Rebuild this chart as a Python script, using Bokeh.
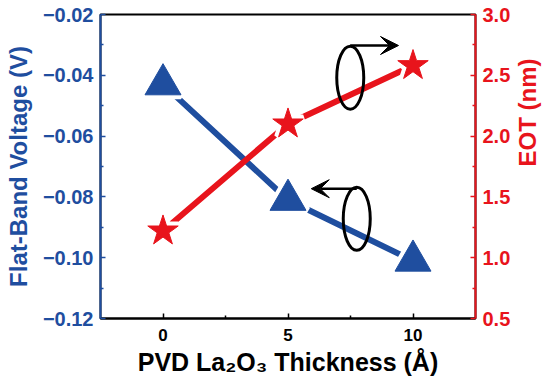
import math
from bokeh.plotting import figure
from bokeh.models import (Range1d, LinearAxis, FixedTicker, Arrow, VeeHead,
                          CustomJSTickFormatter, ColumnDataSource)
from bokeh.embed import file_html
from bokeh.resources import INLINE

# ---- data ----
thickness = [0, 5, 10]
vfb = [-0.043, -0.081, -0.101]
eot = [1.22, 2.10, 2.58]

x_ticks = [0, 5, 10]
vfb_ticks = [-0.12, -0.10, -0.08, -0.06, -0.04, -0.02]
eot_ticks = [0.5, 1.0, 1.5, 2.0, 2.5, 3.0]

# annotation (ellipse + arrow) positions
eot_ring_x, eot_ring_y, eot_arrow_y, eot_arrow_x_end = 7.49, 2.48, 2.745, 9.42
vfb_ring_x, vfb_ring_y, vfb_arrow_y, vfb_arrow_x_end = 7.75, -0.0872, -0.0773, 5.93

BLUE = "#1f4e9f"
RED = "#e8141c"
FONT = "Liberation Sans"

def mids(t):
    return [(a + b) / 2 for a, b in zip(t[:-1], t[1:])]

p = figure(frame_width=375, frame_height=304,
           x_range=Range1d(-2.5, 12.5), y_range=Range1d(-0.12, -0.02),
           output_backend="svg", toolbar_location=None,
           min_border_left=100, min_border_right=69,
           min_border_top=14, min_border_bottom=60)
p.extra_y_ranges = {"eot": Range1d(0.5, 3.0)}
p.xgrid.visible = False
p.ygrid.visible = False
p.outline_line_color = "black"
p.outline_line_width = 2
p.background_fill_color = "white"
p.border_fill_color = "white"

# x axis
xa = p.xaxis[0]
xa.ticker = FixedTicker(ticks=x_ticks, minor_ticks=mids(x_ticks))
xa.axis_label = "PVD La\u2082O\u2083 Thickness (\u00c5)"
xa.axis_line_color = "black"
xa.axis_line_width = 2
xa.major_tick_line_color = "black"
xa.minor_tick_line_color = "black"
xa.major_tick_line_width = 1.5
xa.minor_tick_line_width = 1.5
xa.major_tick_in = 5
xa.major_tick_out = 0
xa.minor_tick_in = 3
xa.minor_tick_out = 0
xa.major_label_text_font = FONT
xa.major_label_text_font_style = "bold"
xa.major_label_text_font_size = "17px"
xa.major_label_text_color = "black"
xa.major_label_standoff = 10
xa.axis_label_text_font = FONT
xa.axis_label_text_font_style = "bold"
xa.axis_label_text_font_size = "25px"
xa.axis_label_text_color = "black"
xa.axis_label_standoff = 4

# left axis
ya = p.yaxis[0]
ya.ticker = FixedTicker(ticks=vfb_ticks, minor_ticks=mids(vfb_ticks))
ya.formatter = CustomJSTickFormatter(code="return tick.toFixed(2).replace('-', '\u2212');")
ya.axis_label = "Flat-Band Voltage (V)"

# right axis
ra = LinearAxis(y_range_name="eot")
ra.ticker = FixedTicker(ticks=eot_ticks, minor_ticks=mids(eot_ticks))
ra.formatter = CustomJSTickFormatter(code="return tick.toFixed(1);")
ra.axis_label = "EOT (nm)"
p.add_layout(ra, "right")

for a, col in ((ya, BLUE), (ra, RED)):
    a.axis_line_color = col
    a.axis_line_width = 2
    a.major_tick_line_color = col
    a.minor_tick_line_color = col
    a.major_tick_line_width = 1.5
    a.minor_tick_line_width = 1.5
    a.major_tick_in = 5
    a.major_tick_out = 0
    a.minor_tick_in = 3
    a.minor_tick_out = 0
    a.major_label_text_font = FONT
    a.major_label_text_font_style = "bold"
    a.major_label_text_font_size = "20px"
    a.major_label_text_color = col
    a.major_label_standoff = 7
    a.axis_label_text_font = FONT
    a.axis_label_text_font_style = "bold"
    a.axis_label_text_font_size = "24px"
    a.axis_label_text_color = col
    a.axis_label_standoff = 8

ra.axis_label_orientation = math.pi / 2
ra.axis_label_standoff = 14

src_v = ColumnDataSource(dict(x=thickness, y=vfb))
src_e = ColumnDataSource(dict(x=thickness, y=eot))

# lines
p.line("x", "y", source=src_v, line_color=BLUE, line_width=6)
p.line("x", "y", source=src_e, line_color=RED, line_width=6, y_range_name="eot")

# white halos to create gaps between lines and markers
p.scatter("x", "y", source=src_v, marker="triangle", size=36,
          fill_color="white", line_color="white", line_width=9)
p.scatter("x", "y", source=src_e, marker="star", size=32,
          fill_color="white", line_color="white", line_width=9, y_range_name="eot")

# markers
p.scatter("x", "y", source=src_v, marker="triangle", size=36,
          fill_color=BLUE, line_color=BLUE, line_width=1)
p.scatter("x", "y", source=src_e, marker="star", size=32,
          fill_color=RED, line_color=RED, line_width=1, y_range_name="eot")

# ellipses and arrows indicating the axis of each series
p.ellipse(x=[eot_ring_x], y=[eot_ring_y], width=27, height=63,
          width_units="screen", height_units="screen",
          fill_color=None, line_color="black", line_width=3, y_range_name="eot")
p.ellipse(x=[vfb_ring_x], y=[vfb_ring_y], width=27, height=63,
          width_units="screen", height_units="screen",
          fill_color=None, line_color="black", line_width=3)

p.add_layout(Arrow(end=VeeHead(size=18, fill_color="black", line_color="black"),
                   x_start=eot_ring_x, y_start=eot_arrow_y,
                   x_end=eot_arrow_x_end, y_end=eot_arrow_y,
                   line_width=2.5, line_color="black", y_range_name="eot"))
p.add_layout(Arrow(end=VeeHead(size=18, fill_color="black", line_color="black"),
                   x_start=vfb_ring_x, y_start=vfb_arrow_y,
                   x_end=vfb_arrow_x_end, y_end=vfb_arrow_y,
                   line_width=2.5, line_color="black"))

open("out.html", "w").write(file_html(p, INLINE))
